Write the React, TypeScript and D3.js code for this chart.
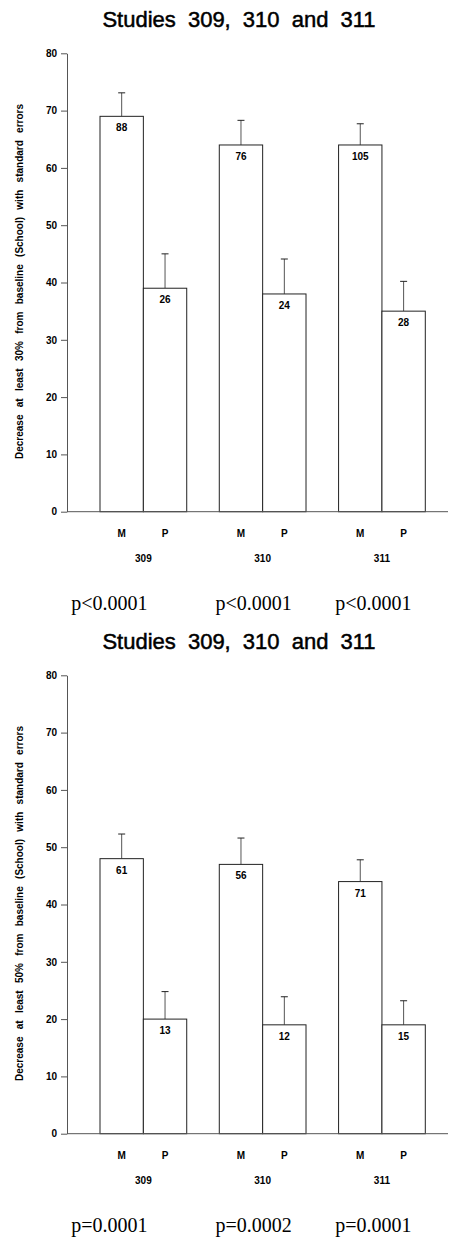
import React, { useEffect, useRef } from 'react';
import * as d3 from 'd3';

// studies and arms
const studies = ['309', '310', '311'];
const arms = ['M', 'P'];

// decrease at least 30%
const pct30M = [69, 64, 64];
const pct30P = [39, 38, 35];
const se30M = [4.1, 4.3, 3.7];
const se30P = [6.0, 6.1, 5.2];
const n30M = [88, 76, 105];
const n30P = [26, 24, 28];
const pvals30 = ['p<0.0001', 'p<0.0001', 'p<0.0001'];

// decrease at least 50%
const pct50M = [48, 47, 44];
const pct50P = [20, 19, 19];
const se50M = [4.3, 4.6, 3.8];
const se50P = [4.8, 4.9, 4.2];
const n50M = [61, 56, 71];
const n50P = [13, 12, 15];
const pvals50 = ['p=0.0001', 'p=0.0002', 'p=0.0001'];

const yTicks = [0, 10, 20, 30, 40, 50, 60, 70, 80];

const W = 451, H = 1239;
const sans = '"Liberation Sans", Arial, sans-serif';
const serif = '"Liberation Serif", "Times New Roman", serif';

// p label shifts from group centre (they are not centred in the original)
const pShift = [-34, -9, -8.5];

function Chart({ oy, yLabel, mVals, pVals, mSe, pSe, mN, pN, pvals }) {
  const axisRef = useRef(null);

  const y = d3.scaleLinear().domain([0, 80]).range([oy + 511.7, oy + 53.3]);
  const x0 = d3.scaleBand().domain(studies).range([100, 425.3]).paddingInner(0.273).paddingOuter(0);
  const x1 = d3.scaleBand().domain(arms).range([0, x0.bandwidth()]);

  useEffect(() => {
    const g = d3.select(axisRef.current);
    g.selectAll('*').remove();
    g.call(d3.axisLeft(y).tickValues(yTicks).tickSize(6).tickSizeOuter(0).tickPadding(4));
    g.select('.domain').attr('stroke', '#555');
    g.selectAll('.tick line').attr('stroke', '#555');
    g.selectAll('.tick text')
      .attr('font-family', sans)
      .attr('font-weight', 'bold')
      .attr('font-size', 10)
      .attr('fill', '#000');
  }, [oy]);

  const bars = studies.flatMap((s, i) => [
    { s, arm: 'M', v: mVals[i], se: mSe[i], n: mN[i] },
    { s, arm: 'P', v: pVals[i], se: pSe[i], n: pN[i] },
  ]);

  return (
    <g>
      <text x={239} y={oy + 26.7} textAnchor="middle" fontFamily={sans} fontSize={22}
        stroke="#000" strokeWidth={0.5} style={{ wordSpacing: '6px' }}>Studies 309, 310 and 311</text>
      <text transform={`translate(23,${oy + 281.5}) rotate(-90)`} textAnchor="middle"
        fontFamily={sans} fontWeight="bold" fontSize={10} style={{ wordSpacing: '4.5px' }}>
        {yLabel}
      </text>
      {bars.map((b, k) => {
        const bx = x0(b.s) + x1(b.arm);
        const cx = bx + x1.bandwidth() / 2;
        return (
          <g key={k}>
            <line x1={cx} x2={cx} y1={y(b.v)} y2={y(b.v + b.se)} stroke="#555" strokeWidth={1} />
            <line x1={cx - 3.5} x2={cx + 3.5} y1={y(b.v + b.se)} y2={y(b.v + b.se)} stroke="#222" strokeWidth={1} />
            <rect x={bx} y={y(b.v)} width={x1.bandwidth()} height={y(0) - y(b.v)}
              fill="white" stroke="#222" strokeWidth={1} />
            <text x={cx} y={y(b.v) + 15} textAnchor="middle" fontFamily={sans}
              fontWeight="bold" fontSize={10}>{b.n}</text>
            <text x={cx} y={y(0) + 25} textAnchor="middle" fontFamily={sans}
              fontWeight="bold" fontSize={10}>{b.arm}</text>
          </g>
        );
      })}
      <line x1={67} x2={448} y1={y(0)} y2={y(0)} stroke="#555" strokeWidth={1} />
      <g ref={axisRef} transform="translate(67,0)" />
      {studies.map((s, i) => (
        <text key={s} x={x0(s) + x0.bandwidth() / 2} y={y(0) + 50.5} textAnchor="middle"
          fontFamily={sans} fontWeight="bold" fontSize={10}>{s}</text>
      ))}
      {studies.map((s, i) => (
        <text key={'p' + s} x={x0(s) + x0.bandwidth() / 2 + pShift[i]} y={y(0) + 97.8}
          textAnchor="middle" fontFamily={serif} fontSize={20}>{pvals[i]}</text>
      ))}
    </g>
  );
}

export default function App() {
  return (
    <svg width={W} height={H} style={{ position: 'absolute', left: 0, top: 0, background: 'white' }}>
      <rect width={W} height={H} fill="white" />
      <Chart oy={0} yLabel="Decrease at least 30% from baseline (School) with standard errors"
        mVals={pct30M} pVals={pct30P} mSe={se30M} pSe={se30P} mN={n30M} pN={n30P} pvals={pvals30} />
      <Chart oy={622} yLabel="Decrease at least 50% from baseline (School) with standard errors"
        mVals={pct50M} pVals={pct50P} mSe={se50M} pSe={se50P} mN={n50M} pN={n50P} pvals={pvals50} />
    </svg>
  );
}
